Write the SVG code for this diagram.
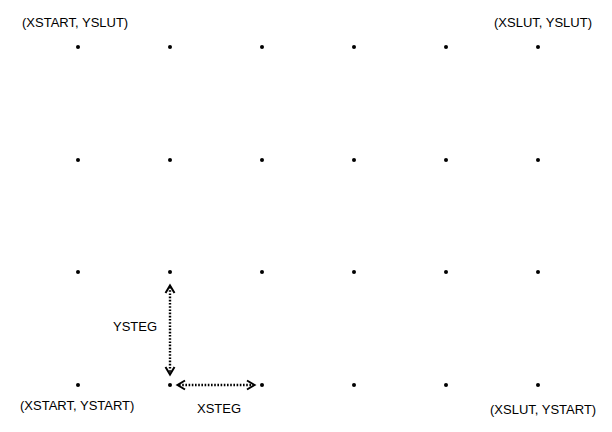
<svg xmlns="http://www.w3.org/2000/svg" width="612" height="432" viewBox="0 0 612 432">
<style>
text{font-family:"Liberation Sans",Arial,sans-serif;font-size:13px;fill:#000}
.dot{fill:#000}
.arr{stroke:#000;stroke-width:2.4;stroke-dasharray:1.6 1.6;fill:none}
.head{stroke:#000;stroke-width:2;fill:none}
</style>
<rect width="612" height="432" fill="#fff"/>
<g id="grid">
<g id="row1"><circle class="dot" cx="78" cy="47" r="2"/><circle class="dot" cx="170" cy="47" r="2"/><circle class="dot" cx="262" cy="47" r="2"/><circle class="dot" cx="354" cy="47" r="2"/><circle class="dot" cx="446" cy="47" r="2"/><circle class="dot" cx="538" cy="47" r="2"/></g>
<g id="row2"><circle class="dot" cx="78" cy="160" r="2"/><circle class="dot" cx="170" cy="160" r="2"/><circle class="dot" cx="262" cy="160" r="2"/><circle class="dot" cx="354" cy="160" r="2"/><circle class="dot" cx="446" cy="160" r="2"/><circle class="dot" cx="538" cy="160" r="2"/></g>
<g id="row3"><circle class="dot" cx="78" cy="272" r="2"/><circle class="dot" cx="170" cy="272" r="2"/><circle class="dot" cx="262" cy="272" r="2"/><circle class="dot" cx="354" cy="272" r="2"/><circle class="dot" cx="446" cy="272" r="2"/><circle class="dot" cx="538" cy="272" r="2"/></g>
<g id="row4"><circle class="dot" cx="78" cy="385" r="2"/><circle class="dot" cx="170" cy="385" r="2"/><circle class="dot" cx="262" cy="385" r="2"/><circle class="dot" cx="354" cy="385" r="2"/><circle class="dot" cx="446" cy="385" r="2"/><circle class="dot" cx="538" cy="385" r="2"/></g>
</g>
<g id="connectors">
<line class="arr" x1="170" y1="287" x2="170" y2="373"/>
<polyline class="head" points="165.5,293 170,285.5 174.5,293"/>
<polyline class="head" points="165.5,367 170,374.5 174.5,367"/>
<line class="arr" x1="179" y1="385" x2="253" y2="385"/>
<polyline class="head" points="185,380.5 177.5,385 185,389.5"/>
<polyline class="head" points="247,380.5 254.5,385 247,389.5"/>
</g>
<g id="labels">
<text x="22" y="27">(XSTART, YSLUT)</text>
<text x="494" y="27">(XSLUT, YSLUT)</text>
<text x="20" y="410">(XSTART, YSTART)</text>
<text x="490" y="414">(XSLUT, YSTART)</text>
<text x="113" y="331">YSTEG</text>
<text x="197" y="413">XSTEG</text>
</g>
</svg>
